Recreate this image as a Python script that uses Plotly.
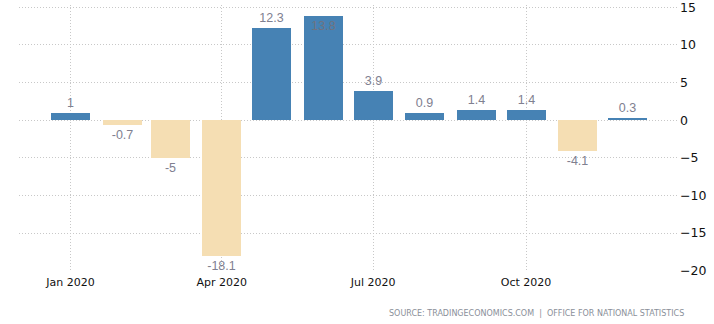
import plotly.graph_objects as go

months = ["2020-01-01", "2020-02-01", "2020-03-01", "2020-04-01", "2020-05-01", "2020-06-01",
          "2020-07-01", "2020-08-01", "2020-09-01", "2020-10-01", "2020-11-01", "2020-12-01"]
values = [1.0, -0.7, -5.0, -18.1, 12.3, 13.8, 3.9, 0.9, 1.4, 1.4, -4.1, 0.3]
tick_dates = ["2020-01-01", "2020-04-01", "2020-07-01", "2020-10-01"]
tick_labels = ["Jan 2020", "Apr 2020", "Jul 2020", "Oct 2020"]
y_ticks = [15, 10, 5, 0, -5, -10, -15, -20]

BLUE = "#4682B4"
WHEAT = "#F5DEB3"
LABEL = "#808090"

colors = [BLUE if v >= 0 else WHEAT for v in values]
positions = ["inside" if v >= 13.5 else "outside" for v in values]
texts = [f"{v:g}" for v in values]

fig = go.Figure()
fig.add_trace(go.Bar(
    x=months, y=values,
    marker=dict(color=colors, line=dict(width=0)),
    width=[23.5 * 24 * 3600 * 1000] * len(values),
    text=texts, textposition=positions, insidetextanchor="end",
    textangle=0, constraintext="none", cliponaxis=False,
    outsidetextfont=dict(family="Liberation Sans", size=12.5, color=LABEL),
    insidetextfont=dict(family="Liberation Sans", size=12.5, color="#6f7380"),
    hoverinfo="skip",
))

fig.update_layout(
    width=714, height=324,
    margin=dict(l=19, r=35, t=5, b=53, autoexpand=False),
    paper_bgcolor="white", plot_bgcolor="white",
    showlegend=False, bargap=0,
    xaxis=dict(
        type="date", range=["2019-12-01", "2021-01-01"],
        tickmode="array", tickvals=tick_dates, ticktext=tick_labels,
        showgrid=True, gridcolor="#c8c8c8", griddash="1px,2px", gridwidth=1,
        zeroline=False, showline=False, ticks="", automargin=False,
        ticklabelstandoff=3,
        tickfont=dict(family="DejaVu Sans", size=11, color="#111111"),
    ),
    yaxis=dict(
        range=[-20.05, 15.3], side="right",
        tickmode="array", tickvals=y_ticks,
        showgrid=True, gridcolor="#c8c8c8", griddash="1px,2px", gridwidth=1,
        zeroline=False, showline=False, ticks="", automargin=False,
        ticklabeloverflow="allow",
        tickfont=dict(family="DejaVu Sans", size=12.5, color="#111111"),
    ),
    annotations=[dict(
        text="SOURCE: TRADINGECONOMICS.COM  |  OFFICE FOR NATIONAL STATISTICS",
        xref="paper", yref="paper", x=1.01, y=-0.16, xanchor="right", yanchor="middle",
        showarrow=False, font=dict(family="DejaVu Sans", size=8, color="#8a8f99"),
    )],
)

fig.write_html("out.html")
